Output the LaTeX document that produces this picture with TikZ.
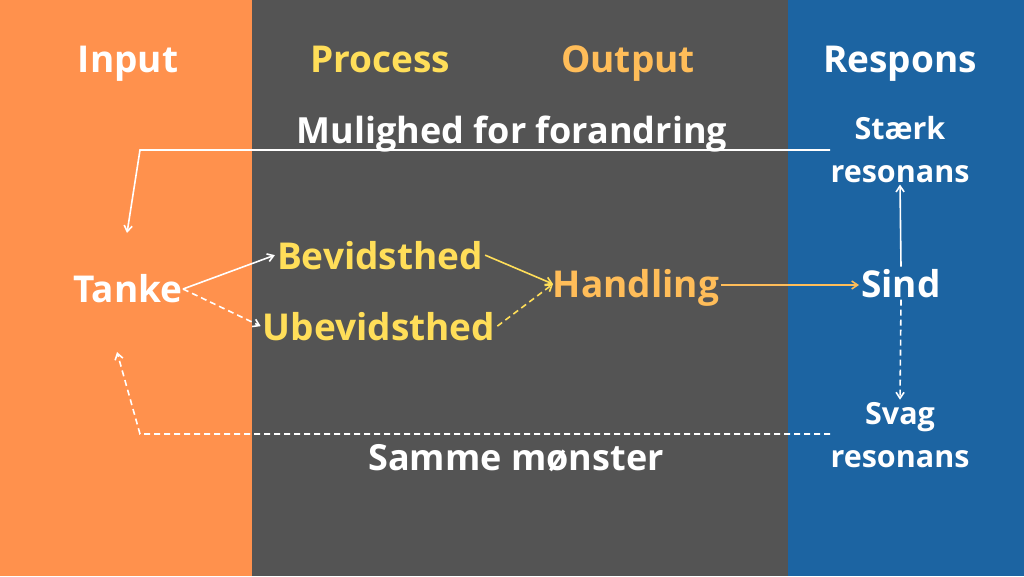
\documentclass[tikz,border=0pt]{standalone}
\usepackage{fontspec}
\setmainfont{Open Sans}
\usetikzlibrary{arrows.meta}
\definecolor{orng}{HTML}{FF914D}
\definecolor{grayp}{HTML}{545454}
\definecolor{bluep}{HTML}{1C64A2}
\definecolor{yel}{HTML}{FFDE59}
\definecolor{oy}{HTML}{FFBD59}
\begin{document}
\begin{tikzpicture}[x=1pt,y=-1pt,
  hd/.style={font=\fontsize{37}{44}\selectfont\bfseries, anchor=base, inner sep=2pt},
  lbl/.style={font=\fontsize{37}{44}\selectfont\bfseries, anchor=base, inner sep=2pt},
  mid/.style={font=\fontsize{36}{44}\selectfont\bfseries, anchor=base, inner sep=2pt},
  sm/.style={font=\fontsize{30.5}{43}\selectfont\bfseries, align=center, anchor=base, inner sep=2pt},
  arr/.style={line width=1.6pt,-{Straight Barb[length=6pt,width=8pt]}},
  dsh/.style={dash pattern=on 6pt off 4pt}]
\useasboundingbox (0,0) rectangle (1024,576);
\fill[orng] (0,0) rectangle (252,576);
\fill[grayp] (252,0) rectangle (788,576);
\fill[bluep] (788,0) rectangle (1024,576);
% headings
\node[hd, text=white] (hin) at (128,72) {Input};
\node[hd, text=yel] (hpr) at (380,72) {Process};
\node[hd, text=oy] (hout) at (628,72) {Output};
\node[hd, text=white] (hre) at (900,72) {Respons};
% labels
\node[mid, text=white] (mul) at (512,143) {Mulighed for forandring};
\node[mid, text=white] (sam) at (516,470) {Samme mønster};
\node[sm, text=white] (st) at (900,182) {Stærk\\resonans};
\node[sm, text=white] (sv) at (900,467) {Svag\\resonans};
\node[lbl, text=white] (tanke) at (128,302) {Tanke};
\node[lbl, text=yel] (bev) at (380,269) {Bevidsthed};
\node[lbl, text=yel] (ubev) at (379,340) {Ubevidsthed};
\node[lbl, text=oy] (hand) at (636,297) {Handling};
\node[lbl, text=white] (sind) at (901,297) {Sind};
% coordinates
\coordinate (t1) at (830,150);
\coordinate (t2) at (140,150);
\coordinate (t3) at (127,233);
\coordinate (b1) at (830,434);
\coordinate (b2) at (140,434);
\coordinate (b3) at (117,352);
\coordinate (tk) at (183,289);
\coordinate (hw) at (553,284);
\coordinate (hy) at (0,285);
% connectors
\draw[arr, white] (t1) -- (t2) -- (t3);
\draw[arr, white, dsh] (b1) -- (b2) -- (b3);
\draw[arr, white] (tk) -- (bev.west);
\draw[arr, white, dsh] (tk) -- (ubev.west);
\draw[arr, yel] (bev.east) -- (hw);
\draw[arr, yel, dsh] (ubev.east) -- (hw);
\draw[arr, oy] (hand.east |- hy) -- (sind.west |- hy);
\draw[arr, white] (sind.north) -- (st.south);
\draw[arr, white, dsh] (sind.south) -- (sv.north);
\end{tikzpicture}
\end{document}
